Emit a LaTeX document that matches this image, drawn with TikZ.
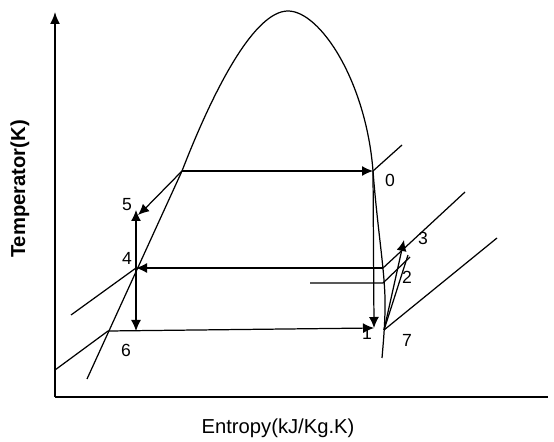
\documentclass[tikz,border=0pt]{standalone}
\usepackage{fontspec}
\setmainfont{Liberation Sans}
\usetikzlibrary{positioning,arrows.meta,calc}
\tikzset{
  flowarrow/.style={-{Latex[length=2.2mm,width=2mm]}, line width=0.7pt},
  plainline/.style={line width=0.7pt},
  axisline/.style={line width=1pt},
  ptlabel/.style={font=\fontsize{10}{12}\selectfont, inner sep=0pt},
  axislabel/.style={font=\fontsize{11.5}{13}\selectfont}
}

\begin{document}
\begin{tikzpicture}[x=0.2cm, y=0.2cm]
  \useasboundingbox (0,0) rectangle (55.4,44.1);
  % axes
  \coordinate (o) at (5.5,4.4);
  \coordinate (ytop) at (5.5,42.9);
  \coordinate (xend) at (54.8,4.4);
  \draw[axisline, -{Latex[length=2.4mm,width=2mm]}] (o) -- (ytop);
  \draw[axisline] (o) -- (xend);
  \node[axislabel] (xlab) at (27.8,1.3) {Entropy(kJ/Kg.K)};
  \node[axislabel, font=\fontsize{11.5}{13}\selectfont\bfseries, rotate=90] (ylab) at (2.0,25.2) {Temperator(K)};

  % state points
  \coordinate (sA) at (18.2,27.0);
  \coordinate (top) at (28.8,43.0);
  \coordinate (s0) at (37.3,27.0);
  \coordinate (s1) at (37.4,11.3);
  \coordinate (s2up) at (38.3,17.3);
  \coordinate (s2lo) at (38.3,15.8);
  \coordinate (s2left) at (31.0,15.8);
  \coordinate (s3) at (40.4,20.1);
  \coordinate (s4) at (13.6,17.3);
  \coordinate (s5) at (13.6,23.1);
  \coordinate (s5tip) at (13.8,22.6);
  \coordinate (s6) at (10.8,11.0);
  \coordinate (s7) at (38.4,11.1);
  \coordinate (s4d) at (s4 |- s6);

  % saturation dome and liquid line
  \draw[plainline] (sA) .. controls (21.5,35.5) and (25.5,43.0) .. (top)
    .. controls (32.0,43.0) and (36.6,36.0) .. (s0)
    .. controls (37.8,20.5) and (38.6,16.5) .. (38.5,13.0)
    .. controls (38.45,11.0) and (38.3,9.5) .. (38.2,8.3);
  \draw[plainline] (8.7,6.2) -- (sA);

  % isobars
  \draw[plainline] (s0) -- (40.2,29.6);
  \draw[plainline] (s2up) -- (46.5,24.9);
  \draw[plainline] (s2left) -- (s2lo) -- (41.0,18.4);
  \draw[plainline] (s7) -- (49.7,20.3);
  \draw[plainline] (7.1,12.6) -- (s4);
  \draw[plainline] (5.5,7.1) -- (s6);

  % cycle
  \draw[flowarrow] (sA) -- (s0);
  \draw[flowarrow] (s0) -- (s1);
  \draw[flowarrow] (s6) -- (s1);
  \draw[flowarrow] (s2up) -- (s4);
  \draw[flowarrow] (sA) -- (s5tip);
  \draw[flowarrow] (s4) -- (s5);
  \draw[flowarrow] (s4) -- (s4d);
  \draw[flowarrow] (s7) -- (s3);
  \draw[plainline] (s7) -- (40.8,18.6);

  % labels
  \node[ptlabel] (l0) at (39.0,26.1) {0};
  \node[ptlabel] (l1) at (36.7,10.8) {1};
  \node[ptlabel] (l2) at (40.7,16.4) {2};
  \node[ptlabel] (l3) at (42.3,20.3) {3};
  \node[ptlabel] (l4) at (12.7,18.3) {4};
  \node[ptlabel] (l5) at (12.7,23.6) {5};
  \node[ptlabel] (l6) at (12.6,9.1) {6};
  \node[ptlabel] (l7) at (40.7,10.1) {7};
\end{tikzpicture}
\end{document}
